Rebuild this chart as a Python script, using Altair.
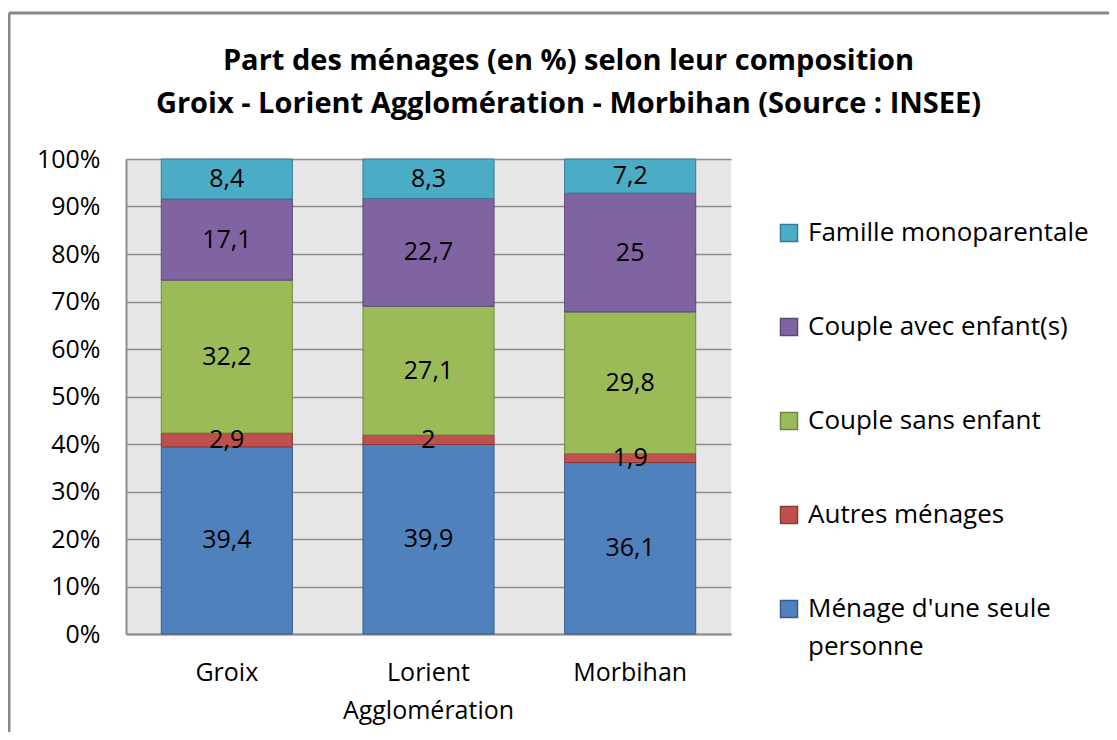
import altair as alt
import pandas as pd

zones = ["Groix", "Lorient Agglomération", "Morbihan"]
categories = [
    "Famille monoparentale",
    "Couple avec enfant(s)",
    "Couple sans enfant",
    "Autres ménages",
    "Ménage d'une seule personne",
]
colors = ["#4bacc6", "#8064a2", "#9bbb59", "#c0504d", "#4f81bd"]
strokes = ["#357d91", "#5c4776", "#71893f", "#8c3836", "#385d8a"]

famille = [8.4, 8.3, 7.2]
couple_avec = [17.1, 22.7, 25]
couple_sans = [32.2, 27.1, 29.8]
autres = [2.9, 2, 1.9]
seule = [39.4, 39.9, 36.1]

series = [famille, couple_avec, couple_sans, autres, seule]

rows = []
for ci, (cat, vals) in enumerate(zip(categories, series)):
    for zi, z in enumerate(zones):
        rows.append({"zone": z, "categorie": cat, "valeur": vals[zi], "ordre": len(categories) - ci})
df = pd.DataFrame(rows)

FONT = "Open Sans"
FS = 25

base = alt.Chart(df).transform_stack(
    stack="valeur", groupby=["zone"], sort=[alt.SortField("ordre", order="ascending")], as_=["y0", "y1"]
).transform_calculate(
    mid="(datum.y0 + datum.y1) / 2",
    lab="replace(toString(datum.valeur), '.', ',')",
)

xenc = alt.X(
    "zone:N",
    sort=zones,
    scale=alt.Scale(paddingInner=0.35, paddingOuter=0.175),
    axis=alt.Axis(
        title=None,
        labelAngle=0,
        labelFont=FONT,
        labelFontSize=FS,
        labelColor="#000000",
        labelPadding=26,
        labelLineHeight=38,
        labelBaseline="top",
        labelExpr="datum.label == 'Lorient Agglomération' ? ['Lorient', 'Agglomération'] : datum.label",
        ticks=False,
        domainColor="#8c8c8c",
        domainWidth=2,
        grid=False,
    ),
)

legend_kw = dict(
    title=None,
    orient="none",
    legendX=650,
    legendY=61,
    symbolType="square",
    symbolSize=289,
    symbolStrokeWidth=1.5,
    labelFont=FONT,
    labelFontSize=26,
    labelColor="#000000",
    labelLimit=400,
    labelOffset=6,
    rowPadding=68,
    labelExpr="datum.label == \"Ménage d'une seule personne\" ? [\"Ménage d'une seule\", \"personne\"] : datum.label",
)

bars = base.mark_bar(strokeWidth=1).encode(
    x=xenc,
    y=alt.Y(
        "y0:Q",
        scale=alt.Scale(domain=[0, 100], nice=False),
        axis=alt.Axis(
            title=None,
            values=list(range(0, 101, 10)),
            labelExpr="datum.value + '%'",
            labelFont=FONT,
            labelFontSize=FS,
            labelColor="#000000",
            labelPadding=26,
            ticks=False,
            domainColor="#8c8c8c",
            domainWidth=2,
            gridColor="#8c8c8c",
            gridWidth=1.5,
        ),
    ),
    y2="y1:Q",
    color=alt.Color(
        "categorie:N",
        scale=alt.Scale(domain=categories, range=colors),
        legend=alt.Legend(**legend_kw),
    ),
    stroke=alt.Stroke(
        "categorie:N",
        scale=alt.Scale(domain=categories, range=strokes),
        legend=alt.Legend(**legend_kw),
    ),
    order=alt.Order("ordre:Q"),
)

labels = base.mark_text(font=FONT, fontSize=FS, color="#000000", baseline="middle", align="center").encode(
    x=alt.X("zone:N", sort=zones),
    y=alt.Y("mid:Q"),
    text="lab:N",
)

frame = alt.Chart(pd.DataFrame({"a": [0]}))
top_border = frame.mark_rule(color="#888888", strokeWidth=3).encode(
    x=alt.value(-117), x2=alt.value(983), y=alt.value(-146)
)
left_border = frame.mark_rule(color="#888888", strokeWidth=3).encode(
    x=alt.value(-117), y=alt.value(-146), y2=alt.value(573)
)

chart = alt.layer(bars, labels, top_border, left_border).properties(
    width=605,
    height=475,
    padding={"left": 118, "top": 151, "right": 378, "bottom": 98},
    autosize=alt.AutoSizeParams(type="none"),
    title=alt.TitleParams(
        text=["Part des ménages (en %) selon leur composition", "Groix - Lorient Agglomération - Morbihan (Source : INSEE)"],
        font=FONT,
        fontSize=29,
        fontWeight="bold",
        color="#000000",
        anchor="middle",
        dx=140,
        lineHeight=43,
        offset=-107,
    ),
).configure(
    view=alt.ViewConfig(fill="#e6e6e6", stroke=None),
    style={"guide-label": {"lineHeight": 38}},
)

chart.save("out.html", embed_options={"renderer": "svg", "actions": False})
